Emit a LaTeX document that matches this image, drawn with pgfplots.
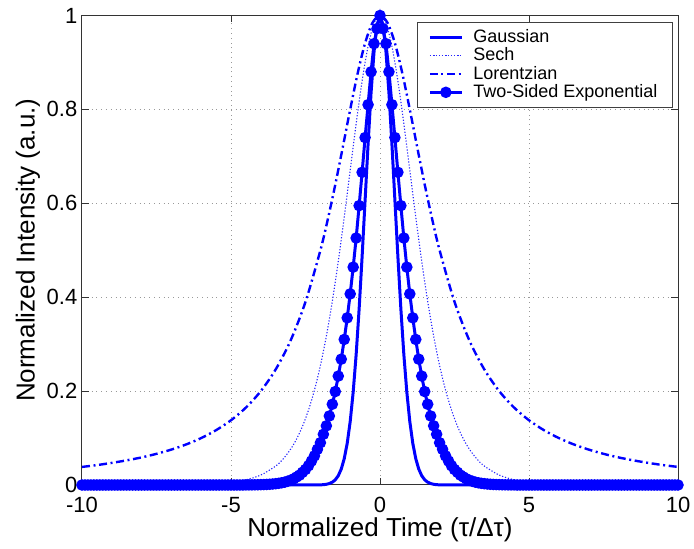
\documentclass[border=0pt]{standalone}
\usepackage{fontspec}
\setmainfont{Liberation Sans}
\usepackage{pgfplots}
\pgfplotsset{compat=1.18}
\begin{document}
\begin{tikzpicture}
\useasboundingbox (-41pt,-32pt) rectangle (306pt,242.5pt);
\begin{axis}[
  at={(0,0)}, anchor=south west,
  scale only axis, width=298pt, height=234.75pt,
  xmin=-10, xmax=10, ymin=0, ymax=1,
  xtick={-10,-5,0,5,10}, ytick={0,0.2,0.4,0.6,0.8,1},
  /pgf/number format/assume math mode=true,
  ticklabel style={font=\fontsize{11}{13}\selectfont},
  xticklabel style={yshift=-2.5pt},
  yticklabel style={xshift=1.2pt},
  tick align=inside, major tick length=3.3pt,
  tick style={black!80, line width=0.5pt},
  axis line style={black!80, line width=0.5pt},
  grid=major, grid style={dotted, gray!80, line width=0.5pt},
  clip=false,
  xlabel={Normalized Time (τ/Δτ)},
  ylabel={Normalized Intensity (a.u.)},
  label style={font=\fontsize{13}{15}\selectfont},
  xlabel style={at={(axis description cs:0.5,-0.095)}, anchor=center},
  ylabel style={at={(axis description cs:-0.0906,0.5)}, anchor=center},
  legend image code/.code={\draw[mark repeat=2,mark phase=2,#1] plot coordinates {(0pt,0pt) (8pt,0pt) (16pt,0pt)}; \path (19pt,0pt);},
  legend style={at={(rel axis cs:0.9916,0.986)}, anchor=north east, draw=black!75, line width=0.5pt,
    font=\fontsize{9}{10.5}\selectfont, inner xsep=5.5pt, inner ysep=1.5pt, row sep=-2.9pt},
  legend cell align=left,
]
% Gaussian
\addplot[blue, line width=1.5pt] coordinates {
(-10,0)(-3,0)(-2.5,0)(-2.2,0.00006)(-2,0.0003)(-1.9,0.0007)(-1.8,0.0015)(-1.7,0.0031)(-1.6,0.0060)(-1.5,0.0111)(-1.4,0.0198)(-1.3,0.0340)(-1.2,0.0561)(-1.1,0.0889)(-1,0.1353)(-0.9,0.1979)(-0.8,0.2780)(-0.7,0.3753)(-0.6,0.4868)(-0.5,0.6065)(-0.4,0.7261)(-0.3,0.8353)(-0.2,0.9231)(-0.1,0.9802)(0,1)
(0.1,0.9802)(0.2,0.9231)(0.3,0.8353)(0.4,0.7261)(0.5,0.6065)(0.6,0.4868)(0.7,0.3753)(0.8,0.2780)(0.9,0.1979)(1,0.1353)(1.1,0.0889)(1.2,0.0561)(1.3,0.0340)(1.4,0.0198)(1.5,0.0111)(1.6,0.0060)(1.7,0.0031)(1.8,0.0015)(1.9,0.0007)(2,0.0003)(2.2,0.00006)(2.5,0)(3,0)(10,0)
};
\addlegendentry{Gaussian}
% Sech
\addplot[blue!85, line width=0.55pt, dash pattern=on 0.6pt off 0.9pt, smooth] coordinates {
(-10,0.00001)(-8,0.00012)(-7,0.00043)(-6,0.0016)(-5,0.0058)(-4.5,0.0111)(-4,0.0212)(-3.5,0.0404)(-3.25,0.0555)(-3,0.0762)(-2.8,0.0978)(-2.6,0.1252)(-2.4,0.1595)(-2.2,0.2021)(-2,0.2543)(-1.8,0.3172)(-1.6,0.3913)(-1.4,0.4765)(-1.2,0.5707)(-1,0.6704)(-0.8,0.7696)(-0.6,0.8607)(-0.4,0.9346)(-0.2,0.9831)(0,1)
(0.2,0.9831)(0.4,0.9346)(0.6,0.8607)(0.8,0.7696)(1,0.6704)(1.2,0.5707)(1.4,0.4765)(1.6,0.3913)(1.8,0.3172)(2,0.2543)(2.2,0.2021)(2.4,0.1595)(2.6,0.1252)(2.8,0.0978)(3,0.0762)(3.25,0.0555)(3.5,0.0404)(4,0.0212)(4.5,0.0111)(5,0.0058)(6,0.0016)(7,0.00043)(8,0.00012)(10,0.00001)
};
\addlegendentry{Sech}
% Lorentzian
\addplot[blue, line width=1.2pt, dash pattern=on 4pt off 1.8pt on 1pt off 1.8pt, smooth] coordinates {
(-10,0.0385)(-9.5,0.0424)(-9,0.0471)(-8.5,0.0525)(-8,0.0588)(-7.5,0.0664)(-7,0.0755)(-6.5,0.0865)(-6,0.1)(-5.5,0.1168)(-5,0.1379)(-4.5,0.1649)(-4,0.2)(-3.5,0.2462)(-3,0.3077)(-2.5,0.3902)(-2,0.5)(-1.75,0.5664)(-1.5,0.64)(-1.25,0.7191)(-1,0.8)(-0.75,0.8767)(-0.5,0.9412)(-0.25,0.9846)(0,1)
(0.25,0.9846)(0.5,0.9412)(0.75,0.8767)(1,0.8)(1.25,0.7191)(1.5,0.64)(1.75,0.5664)(2,0.5)(2.5,0.3902)(3,0.3077)(3.5,0.2462)(4,0.2)(4.5,0.1649)(5,0.1379)(5.5,0.1168)(6,0.1)(6.5,0.0865)(7,0.0755)(7.5,0.0664)(8,0.0588)(8.5,0.0525)(9,0.0471)(9.5,0.0424)(10,0.0385)
};
\addlegendentry{Lorentzian}
% Two-sided exponential
\addplot[blue, line width=1.5pt, mark=*, mark size=2.1pt, mark options={solid, fill=blue}] coordinates {
(-10,0)(-9.9,0)(-9.8,0)(-9.7,0)(-9.6,0)(-9.5,0)(-9.4,0)(-9.3,0)(-9.2,0)(-9.1,0)
(-9,0)(-8.9,0)(-8.8,0)(-8.7,0)(-8.6,0)(-8.5,0)(-8.4,0)(-8.3,0)(-8.2,0)(-8.1,0)
(-8,0)(-7.9,0)(-7.8,0)(-7.7,0)(-7.6,0)(-7.5,0)(-7.4,0)(-7.3,0)(-7.2,0)(-7.1,0)
(-7,0)(-6.9,0)(-6.8,0)(-6.7,0)(-6.6,0)(-6.5,0)(-6.4,0)(-6.3,0)(-6.2,0)(-6.1,0)
(-6,0)(-5.9,0)(-5.8,0)(-5.7,0)(-5.6,0)(-5.5,0)(-5.4,0)(-5.3,0)(-5.2,0)(-5.1,0)
(-5,0)(-4.9,0)(-4.8,0)(-4.7,0)(-4.6,0)(-4.5,0.0002)(-4.4,0.0002)(-4.3,0.0003)(-4.2,0.0004)(-4.1,0.0005)
(-4,0.0007)(-3.9,0.0009)(-3.8,0.0012)(-3.7,0.0016)(-3.6,0.0021)(-3.5,0.0028)(-3.4,0.0036)(-3.3,0.0047)(-3.2,0.006)(-3.1,0.008)
(-3,0.010)(-2.9,0.013)(-2.8,0.017)(-2.7,0.021)(-2.6,0.027)(-2.5,0.033)(-2.4,0.041)(-2.3,0.051)(-2.2,0.062)(-2.1,0.076)
(-2,0.090)(-1.9,0.108)(-1.8,0.126)(-1.7,0.147)(-1.6,0.172)(-1.5,0.199)(-1.4,0.232)(-1.3,0.268)(-1.2,0.310)(-1.1,0.356)
(-1,0.407)(-0.9,0.464)(-0.8,0.526)(-0.7,0.595)(-0.6,0.666)(-0.5,0.740)(-0.4,0.810)(-0.3,0.880)(-0.2,0.940)(-0.1,0.972)
(0,1)
(0.1,0.972)(0.2,0.940)(0.3,0.880)(0.4,0.810)(0.5,0.740)(0.6,0.666)(0.7,0.595)(0.8,0.526)(0.9,0.464)(1,0.407)
(1.1,0.356)(1.2,0.310)(1.3,0.268)(1.4,0.232)(1.5,0.199)(1.6,0.172)(1.7,0.147)(1.8,0.126)(1.9,0.108)(2,0.090)
(2.1,0.076)(2.2,0.062)(2.3,0.051)(2.4,0.041)(2.5,0.033)(2.6,0.027)(2.7,0.021)(2.8,0.017)(2.9,0.013)(3,0.010)
(3.1,0.008)(3.2,0.006)(3.3,0.0047)(3.4,0.0036)(3.5,0.0028)(3.6,0.0021)(3.7,0.0016)(3.8,0.0012)(3.9,0.0009)(4,0.0007)
(4.1,0.0005)(4.2,0.0004)(4.3,0.0003)(4.4,0.0002)(4.5,0.0002)(4.6,0)(4.7,0)(4.8,0)(4.9,0)(5,0)
(5.1,0)(5.2,0)(5.3,0)(5.4,0)(5.5,0)(5.6,0)(5.7,0)(5.8,0)(5.9,0)(6,0)
(6.1,0)(6.2,0)(6.3,0)(6.4,0)(6.5,0)(6.6,0)(6.7,0)(6.8,0)(6.9,0)(7,0)
(7.1,0)(7.2,0)(7.3,0)(7.4,0)(7.5,0)(7.6,0)(7.7,0)(7.8,0)(7.9,0)(8,0)
(8.1,0)(8.2,0)(8.3,0)(8.4,0)(8.5,0)(8.6,0)(8.7,0)(8.8,0)(8.9,0)(9,0)
(9.1,0)(9.2,0)(9.3,0)(9.4,0)(9.5,0)(9.6,0)(9.7,0)(9.8,0)(9.9,0)(10,0)
};
\addlegendentry{Two-Sided Exponential}
\end{axis}
\end{tikzpicture}
\end{document}
